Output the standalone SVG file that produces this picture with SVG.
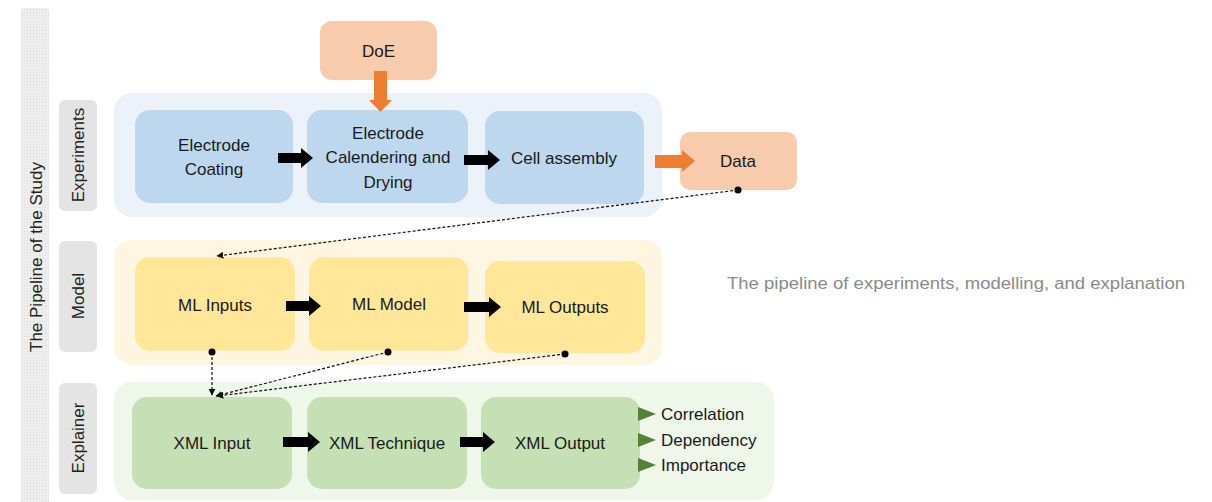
<svg xmlns="http://www.w3.org/2000/svg" width="1212" height="502" viewBox="0 0 1212 502">
<style>
text{font-family:"Liberation Sans","Open Sans",Arial,sans-serif;fill:#1a1a1a;}
.t{font-size:17px;text-anchor:middle;dominant-baseline:central;}
.lab{font-size:17px;text-anchor:middle;dominant-baseline:central;fill:#222;}
.lbox{fill:#E4E4E4;}
.bexp{fill:#EBF2FA;}
.bmod{fill:#FFF6E1;}
.bexq{fill:#EFF6EA;}
.nexp{fill:#BDD7EE;}
.nmod{fill:#FFE699;}
.nexq{fill:#C5E0B4;}
.nor{fill:#F8CBAD;}
.blk{fill:#000;}
.org{fill:#ED7D31;}
.grn{fill:#548235;}
.dash{fill:none;stroke:#111;stroke-width:1.2;stroke-dasharray:3 2;}
.side{font-size:17px;dominant-baseline:central;}
</style>
<defs>
<pattern id="hatch" width="3" height="3" patternUnits="userSpaceOnUse">
<rect width="3" height="3" fill="#EEEEEE"/>
<rect width="1" height="1" fill="#DADADA"/>
</pattern>
<marker id="ah" viewBox="0 0 10 10" refX="9" refY="5" markerWidth="7" markerHeight="7" orient="auto" markerUnits="userSpaceOnUse">
<path d="M0,0 L10,5 L0,10 Z" fill="#111"/>
</marker>
</defs>

<g id="pipeline-bar">
<rect x="21" y="8" width="28" height="500" rx="4" fill="url(#hatch)"/>
<text class="lab" transform="translate(36,257) rotate(-90)">The Pipeline of the Study</text>
</g>

<g id="label-experiments">
<rect class="lbox" x="59" y="100" width="38" height="111" rx="6"/>
<text class="lab" transform="translate(78,155) rotate(-90)">Experiments</text>
</g>
<g id="label-model">
<rect class="lbox" x="59" y="241" width="38" height="111" rx="6"/>
<text class="lab" transform="translate(78,296) rotate(-90)">Model</text>
</g>
<g id="label-explainer">
<rect class="lbox" x="59" y="383" width="38" height="111" rx="6"/>
<text class="lab" transform="translate(78,438) rotate(-90)">Explainer</text>
</g>

<g id="group-experiments"><rect class="bexp" x="114" y="93" width="548" height="124" rx="18"/></g>
<g id="group-model"><rect class="bmod" x="114" y="240" width="548" height="125" rx="18"/></g>
<g id="group-explainer"><rect class="bexq" x="114" y="382" width="660" height="118" rx="18"/></g>

<g id="doe"><rect class="nor" x="320" y="21" width="117" height="59" rx="12"/><text class="t" x="378.500" y="51">DoE</text></g>
<g id="electrode-coating"><rect class="nexp" x="135" y="110" width="158" height="93" rx="15"/>
<text class="t" x="214" y="145">Electrode</text><text class="t" x="214" y="169">Coating</text></g>
<g id="electrode-calendering"><rect class="nexp" x="307" y="110" width="161" height="93" rx="15"/>
<text class="t" x="388" y="133">Electrode</text><text class="t" x="388" y="157">Calendering and</text><text class="t" x="388" y="182">Drying</text></g>
<g id="cell-assembly"><rect class="nexp" x="485" y="111" width="159" height="93" rx="15"/><text class="t" x="564" y="158">Cell assembly</text></g>
<g id="data"><rect class="nor" x="680" y="132" width="117" height="58" rx="10"/><text class="t" x="738" y="161">Data</text></g>

<g id="ml-inputs"><rect class="nmod" x="135" y="257" width="160" height="94" rx="15"/><text class="t" x="215" y="305">ML Inputs</text></g>
<g id="ml-model"><rect class="nmod" x="309" y="257" width="159" height="94" rx="15"/><text class="t" x="389" y="304">ML Model</text></g>
<g id="ml-outputs"><rect class="nmod" x="485" y="261" width="160" height="92" rx="15"/><text class="t" x="565" y="307">ML Outputs</text></g>

<g id="xml-input"><rect class="nexq" x="132" y="397" width="160" height="92" rx="15"/><text class="t" x="212" y="443">XML Input</text></g>
<g id="xml-technique"><rect class="nexq" x="307" y="397" width="160" height="92" rx="15"/><text class="t" x="387" y="443">XML Technique</text></g>
<g id="xml-output"><rect class="nexq" x="481" y="397" width="159" height="92" rx="15"/><text class="t" x="560" y="443">XML Output</text></g>

<g id="outputs-list">
<path class="grn" d="M638,407 L656,414 L638,421 Z"/>
<path class="grn" d="M638,433 L656,440 L638,447 Z"/>
<path class="grn" d="M638,458 L656,465 L638,472 Z"/>
<text class="side" x="661" y="414">Correlation</text>
<text class="side" x="661" y="440">Dependency</text>
<text class="side" x="661" y="465">Importance</text>
</g>

<g id="caption"><text x="727" y="283" font-size="16" style="fill:#8a8a8a;dominant-baseline:central" textLength="458" lengthAdjust="spacingAndGlyphs">The pipeline of experiments, modelling, and explanation</text></g>

<g id="connectors">
<path class="org" d="M374,71 L387,71 L387,100 L392,100 L380.500,112 L369,100 L374,100 Z"/>
<path class="org" d="M655,155 L682,155 L682,150 L695,161 L682,172 L682,168 L655,168 Z"/>
<path class="blk" d="M278,153 L301,153 L301,148 L313,158 L301,168 L301,163 L278,163 Z"/>
<path class="blk" d="M464,155 L488,155 L488,150 L500,160 L488,170 L488,165 L464,165 Z"/>
<path class="blk" d="M286,301 L309,301 L309,296 L321,306 L309,316 L309,311 L286,311 Z"/>
<path class="blk" d="M464,302 L489,302 L489,297 L501,307 L489,317 L489,312 L464,312 Z"/>
<path class="blk" d="M283,437 L308,437 L308,432 L320,442 L308,452 L308,447 L283,447 Z"/>
<path class="blk" d="M460,437 L483,437 L483,432 L495,442 L483,452 L483,447 L460,447 Z"/>
<circle cx="738" cy="190" r="3.5" fill="#000"/>
<path class="dash" d="M738,190 L217,256" marker-end="url(#ah)"/>
<circle cx="212" cy="352" r="3.5" fill="#000"/>
<path class="dash" d="M212,352 L212,395" marker-end="url(#ah)"/>
<circle cx="388" cy="352" r="3.5" fill="#000"/>
<path class="dash" d="M388,352 L216,396" marker-end="url(#ah)"/>
<circle cx="565" cy="354" r="3.5" fill="#000"/>
<path class="dash" d="M565,354 L217,396" marker-end="url(#ah)"/>
</g>
</svg>
